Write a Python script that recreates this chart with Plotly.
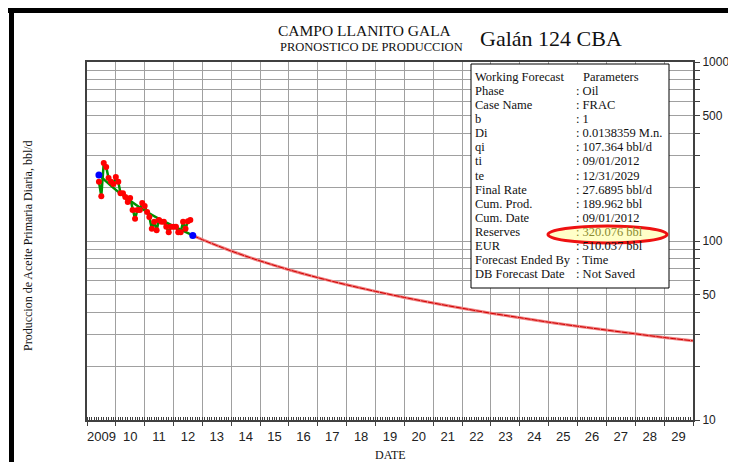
import plotly.graph_objects as go
import pandas as pd

# ---------------- data ----------------
hist_start = "2009-06-01"
hist_values = [214, 178, 273, 259, 225, 214, 208, 228, 214, 185, 185, 176, 165, 174,
               149, 133, 149, 149, 163, 157, 145, 136, 117, 128, 115, 131, 128, 128,
               120, 112, 120, 120, 120, 112, 112, 128, 117, 129, 131]

fit_dates = ["2009-06-01", "2010-01-01", "2010-07-01", "2011-01-01", "2011-07-01",
             "2012-01-01", "2012-09-01"]
fit_values = [234, 193, 168, 148, 133, 121, 107.4]

anchor_dates = ["2009-06-01", "2012-09-01"]
anchor_values = [234, 107.4]

forecast_dates = ["2012-09-01", "2013-01-01", "2014-01-01", "2015-01-01", "2016-01-01",
                  "2017-01-01", "2018-01-01", "2019-01-01", "2020-01-01", "2021-01-01",
                  "2022-01-01", "2023-01-01", "2024-01-01", "2025-01-01", "2026-01-01",
                  "2027-01-01", "2028-01-01", "2029-01-01", "2029-12-31"]
forecast_values = [107.4, 101.7, 87.9, 77.4, 69.1, 62.4, 56.9, 52.3, 48.4, 45.0, 42.1,
                   39.5, 37.3, 35.2, 33.4, 31.8, 30.3, 28.9, 27.7]

y_grid_values = [10, 20, 30, 40, 50, 60, 70, 80, 90,
                 100, 200, 300, 400, 500, 600, 700, 800, 900, 1000]
y_labeled = [10, 50, 100, 500, 1000]

info_labels = ["Working Forecast", "Phase", "Case Name", "b", "Di", "qi", "ti", "te",
               "Final Rate", "Cum. Prod.", "Cum. Date", "Reserves", "EUR",
               "Forecast Ended By", "DB Forecast Date"]
info_values = ["Parameters", ": Oil", ": FRAC", ": 1", ": 0.0138359 M.n.", ": 107.364 bbl/d",
               ": 09/01/2012", ": 12/31/2029", ": 27.6895 bbl/d", ": 189.962 bbl",
               ": 09/01/2012", ": 320.076 bbl", ": 510.037 bbl", ": Time", ": Not Saved"]

# ---------------- layout helpers ----------------
OFF = 8                      # default page (body) margin around the figure
W, H = 736 - 2 * OFF, 470 - 2 * OFF
L, R, T, B = 87, 693, 62, 420   # plot area in page pixels


def px(x):
    return (x - L) / (R - L)


def py(y):
    return (B - y) / (B - T)


SERIF = "Liberation Serif, Times New Roman, serif"
SANS = "Liberation Sans, Arial, sans-serif"

hist_dates = pd.date_range(hist_start, periods=len(hist_values), freq="MS")

fig = go.Figure()

# forecast (red band + darker core)
fig.add_trace(go.Scatter(x=forecast_dates, y=forecast_values, mode="lines",
                         line=dict(color="#f08080", width=3, shape="spline"),
                         hoverinfo="skip", showlegend=False))
fig.add_trace(go.Scatter(x=forecast_dates, y=forecast_values, mode="lines",
                         line=dict(color="#d00000", width=1, shape="spline", dash="6px,1px"),
                         showlegend=False))
# fitted curve over history
fig.add_trace(go.Scatter(x=fit_dates, y=fit_values, mode="lines",
                         line=dict(color="#009000", width=2.5, shape="spline"),
                         showlegend=False))
# history
fig.add_trace(go.Scatter(x=hist_dates, y=hist_values, mode="lines+markers",
                         line=dict(color="#009000", width=2.5),
                         marker=dict(color="#ff0000", size=6),
                         showlegend=False))
# anchors
fig.add_trace(go.Scatter(x=anchor_dates, y=anchor_values, mode="markers",
                         marker=dict(color="#0000ff", size=7),
                         showlegend=False))

fig.update_xaxes(
    type="date", range=["2009-01-01", "2030-01-01"], automargin=False,
    tickmode="linear", tick0="2009-01-01", dtick="M12",
    ticklabelmode="period", tickformat="%y", labelalias={"09": "2009"},
    showgrid=True, gridcolor="#a0a0a0", gridwidth=1,
    ticks="outside", ticklen=4, tickcolor="#404040",
    minor=dict(dtick="M1", tick0="2009-01-01", ticks="inside", ticklen=3,
               tickcolor="#404040", showgrid=False),
    showline=True, linecolor="#404040", linewidth=1.5, mirror=True,
    tickfont=dict(family=SANS, size=13, color="#222222"),
    zeroline=False,
)
fig.update_yaxes(
    type="log", range=[1, 3], side="right", automargin=False,
    tickmode="array", tickvals=y_grid_values,
    ticktext=[str(v) if v in y_labeled else "" for v in y_grid_values],
    showgrid=True, gridcolor="#a0a0a0", gridwidth=1,
    ticks="outside", ticklen=5, tickcolor="#404040", ticklabelstandoff=0,
    showline=True, linecolor="#404040", linewidth=2, mirror=True,
    tickfont=dict(family=SANS, size=12, color="#222222"),
    zeroline=False,
)

shapes = [
    # black frame pieces
    dict(type="rect", xref="paper", yref="paper", x0=px(8), x1=px(740), y0=py(13), y1=py(8),
         fillcolor="black", line=dict(width=0), layer="above"),
    dict(type="rect", xref="paper", yref="paper", x0=px(9), x1=px(14), y0=py(475), y1=py(8),
         fillcolor="black", line=dict(width=0), layer="above"),
    # info box
    dict(type="rect", xref="paper", yref="paper", x0=px(471), x1=px(669), y0=py(288), y1=py(64),
         fillcolor="white", line=dict(color="black", width=1), layer="above"),
    # highlight ellipse
    dict(type="circle", xref="paper", yref="paper", x0=px(548), x1=px(667), y0=py(243), y1=py(226),
         fillcolor="#ffffc8", line=dict(color="#ee1111", width=3), layer="above"),
]

annotations = [
    dict(text="CAMPO LLANITO GALA", x=px(365), y=py(30), font=dict(family=SERIF, size=15.5, color="#111111")),
    dict(text="PRONOSTICO DE PRODUCCION", x=px(371), y=py(47), font=dict(family=SERIF, size=12.5, color="#111111")),
    dict(text="Galán 124 CBA", x=px(551), y=py(38), font=dict(family=SERIF, size=22, color="#111111")),
    dict(text="Produccion de Aceite Primaria Diaria, bbl/d", x=px(28), y=py(246), textangle=-90,
         font=dict(family=SERIF, size=12, color="#111111")),
    dict(text="DATE", x=px(390), y=py(455), font=dict(family=SERIF, size=12, color="#111111")),
]
for a in annotations:
    a.update(xref="paper", yref="paper", showarrow=False, xanchor="center", yanchor="middle")

line_gap = (274 - 77) / (len(info_labels) - 1)
for i, (lab, val) in enumerate(zip(info_labels, info_values)):
    yy = 77 + i * line_gap
    annotations.append(dict(text=lab, x=px(473), y=py(yy), xref="paper", yref="paper",
                            showarrow=False, xanchor="left", yanchor="middle",
                            font=dict(family=SERIF, size=12.5, color="#111111")))
    color = "#8a8a30" if lab == "Reserves" else "#111111"
    xv = 581 if i == 0 else 574
    annotations.append(dict(text=val, x=px(xv), y=py(yy), xref="paper", yref="paper",
                            showarrow=False, xanchor="left", yanchor="middle",
                            font=dict(family=SERIF, size=12.5, color=color)))

fig.update_layout(
    width=W, height=H, autosize=False,
    margin=dict(l=L - OFF, r=W - (R - OFF), t=T - OFF, b=H - (B - OFF), pad=0),
    paper_bgcolor="white", plot_bgcolor="white",
    shapes=shapes, annotations=annotations,
    showlegend=False,
)

fig.write_html("out.html", config={"displayModeBar": False})
